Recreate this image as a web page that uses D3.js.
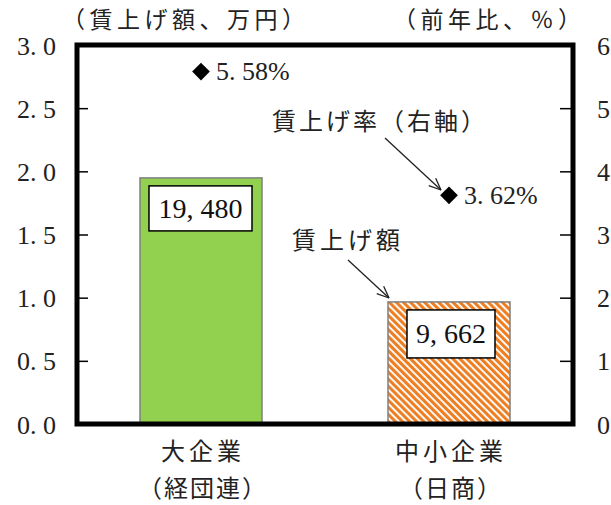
<!DOCTYPE html>
<html><head><meta charset="utf-8">
<script src="https://cdn.jsdelivr.net/npm/d3@7"></script>
<style>body{margin:0;background:#fff}svg{display:block}</style>
</head><body>
<svg id="c" width="611" height="505"></svg>
<script>
const categories = ["大企業", "中小企業"];
const subLabels = ["（経団連）", "（日商）"];
const wageAmount = [1.948, 0.9662];          // 万円 (left axis)
const amountLabels = ["19, 480", "9, 662"];
const wageRate = [5.58, 3.62];               // % (right axis)
const rateLabels = ["5. 58%", "3. 62%"];
const leftTicks = [0, 0.5, 1.0, 1.5, 2.0, 2.5, 3.0];
const rightTicks = [0, 1, 2, 3, 4, 5, 6];

const svg = d3.select("#c");
const L = 77, R = 573, T = 45, B = 424;
const FONT = "'Liberation Serif','Noto Sans CJK JP',serif";
const CJK = "'Noto Sans CJK JP',sans-serif";
const INK = "#222";

const x = d3.scaleBand().domain(categories).range([L, R]).paddingInner(0.508).paddingOuter(0.254);
const yL = d3.scaleLinear().domain([0, 3]).range([B, T]);
const yR = d3.scaleLinear().domain([0, 6]).range([B, T]);

const defs = svg.append("defs");
const pat = defs.append("pattern").attr("id", "hatch").attr("patternUnits", "userSpaceOnUse")
  .attr("width", 5).attr("height", 5).attr("patternTransform", "rotate(-45)");
pat.append("rect").attr("width", 5).attr("height", 5).attr("fill", "#ffffff");
pat.append("rect").attr("width", 3.1).attr("height", 5).attr("fill", "#EE7E22");

// bars
const colors = ["#92D050", "url(#hatch)"];
svg.append("g").selectAll("rect").data(categories).join("rect")
  .attr("x", d => x(d)).attr("width", x.bandwidth())
  .attr("y", (d, i) => yL(wageAmount[i])).attr("height", (d, i) => B - yL(wageAmount[i]))
  .attr("fill", (d, i) => colors[i]).attr("stroke", "#808080").attr("stroke-width", 1.5);

// value boxes
const boxes = [{dx: 9, dy: 8, w: 103, h: 45}, {dx: 19, dy: 8, w: 88, h: 48}];
categories.forEach((c, i) => {
  const b = boxes[i];
  const bx = x(c) + b.dx, by = yL(wageAmount[i]) + b.dy;
  svg.append("rect").attr("x", bx).attr("y", by).attr("width", b.w).attr("height", b.h)
    .attr("fill", "#fff").attr("stroke", "#000").attr("stroke-width", 1.5);
  svg.append("text").attr("x", bx + b.w / 2).attr("y", by + b.h / 2 + 9.5)
    .attr("text-anchor", "middle").attr("font-family", FONT).attr("font-size", 28)
    .attr("fill", "#111").text(amountLabels[i]);
});

// axes
const axL = d3.axisLeft(yL).tickValues(leftTicks).tickFormat(d3.format(".1f")).tickSizeInner(-11).tickSizeOuter(0).tickPadding(21);
const gL = svg.append("g").attr("transform", `translate(${L},0)`).call(axL);
const axR = d3.axisRight(yR).tickValues(rightTicks).tickFormat(d3.format("d")).tickSizeInner(-13).tickSizeOuter(0).tickPadding(24);
const gR = svg.append("g").attr("transform", `translate(${R},0)`).call(axR);
[gL, gR].forEach(g => {
  g.select(".domain").remove();
  g.selectAll(".tick line").attr("stroke", "#000").attr("stroke-width", 1.5);
  g.selectAll(".tick text").attr("font-family", FONT).attr("font-size", 26).attr("fill", INK)
    .attr("dy", "0.35em");
});
gL.selectAll(".tick text").text(d => d3.format(".1f")(d).replace(".", ". "));

// frame
svg.append("rect").attr("x", L).attr("y", T).attr("width", R - L).attr("height", B - T)
  .attr("fill", "none").attr("stroke", "#000").attr("stroke-width", 5);

// rate markers
const sym = d3.symbol().type(d3.symbolDiamond2).size(200);
svg.append("g").selectAll("path").data(categories).join("path")
  .attr("d", sym)
  .attr("transform", (d, i) => `translate(${x(d) + x.bandwidth() / 2},${yR(wageRate[i])})`)
  .attr("fill", "#000");
svg.append("g").selectAll("text").data(categories).join("text")
  .attr("x", d => x(d) + x.bandwidth() / 2 + 15)
  .attr("y", (d, i) => yR(wageRate[i]) + 8.5)
  .attr("font-family", FONT).attr("font-size", 26).attr("fill", INK)
  .text((d, i) => rateLabels[i]);

// axis titles
svg.append("text").attr("x", 62).attr("y", 28).attr("font-family", CJK).attr("font-size", 23)
  .attr("fill", INK).attr("letter-spacing", 4.5).text("（賃上げ額、万円）");
svg.append("text").attr("x", 393).attr("y", 28).attr("font-family", CJK).attr("font-size", 23)
  .attr("fill", INK).attr("letter-spacing", 4.5).text("（前年比、％）");

// category labels
svg.append("g").selectAll("text").data(categories).join("text")
  .attr("x", d => x(d) + x.bandwidth() / 2 + 2).attr("y", 460).attr("text-anchor", "middle")
  .attr("font-family", CJK).attr("font-size", 24).attr("fill", INK).attr("letter-spacing", 4)
  .text(d => d);
svg.append("g").selectAll("text").data(categories).join("text")
  .attr("x", d => x(d) + x.bandwidth() / 2 + 2).attr("y", 497).attr("text-anchor", "middle")
  .attr("font-family", CJK).attr("font-size", 24).attr("fill", INK).attr("letter-spacing", 2)
  .text((d, i) => subLabels[i]);

// annotations
svg.append("text").attr("x", 272).attr("y", 130).attr("font-family", CJK).attr("font-size", 24)
  .attr("fill", INK).attr("letter-spacing", 3).text("賃上げ率（右軸）");
svg.append("text").attr("x", 292).attr("y", 249).attr("font-family", CJK).attr("font-size", 24)
  .attr("fill", INK).attr("letter-spacing", 4).text("賃上げ額");

function arrow(x1, y1, x2, y2) {
  const g = svg.append("g").attr("stroke", "#222").attr("stroke-width", 1.3).attr("fill", "none");
  g.append("line").attr("x1", x1).attr("y1", y1).attr("x2", x2).attr("y2", y2);
  const a = Math.atan2(y2 - y1, x2 - x1), len = 13, spread = 0.4;
  [a + Math.PI - spread, a + Math.PI + spread].forEach(t => {
    g.append("line").attr("x1", x2).attr("y1", y2)
      .attr("x2", x2 + len * Math.cos(t)).attr("y2", y2 + len * Math.sin(t));
  });
}
arrow(385, 138, 441, 190);
arrow(348, 260, 389, 298);
</script>
</body></html>
